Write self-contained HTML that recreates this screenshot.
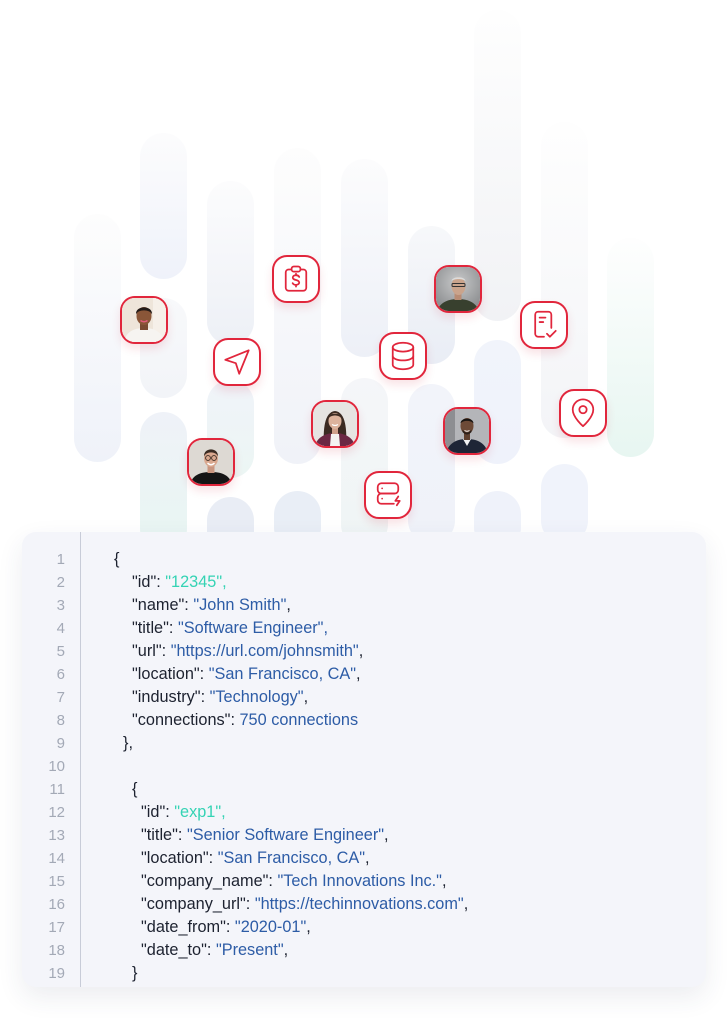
<!DOCTYPE html>
<html><head><meta charset="utf-8">
<style>
html,body{margin:0;padding:0;background:#fff;}
body{width:727px;height:1018px;position:relative;overflow:hidden;font-family:"Liberation Sans",Arial,sans-serif;}
.p{position:absolute;width:47px;border-radius:24px;}
.card{position:absolute;width:44px;height:44px;border:2px solid #e1263c;border-radius:15px;background:#fff;box-shadow:0 5px 9px rgba(210,40,60,0.13);overflow:hidden;}
.card svg{position:absolute;left:0;top:0;}
.ic{fill:none;stroke:#e1263c;stroke-width:1.2;stroke-linecap:round;stroke-linejoin:round;}
.panel{position:absolute;left:22px;top:532px;width:684px;height:455px;background:#f4f5fa;border-radius:14px;box-shadow:0 10px 26px rgba(40,50,90,0.09);}
.gut{position:absolute;left:80px;top:532px;width:1px;height:455px;background:#c8ccd8;}
.ln{position:absolute;left:30px;width:35px;text-align:right;font-size:15px;color:#a3a9b6;line-height:23px;}
.cl{position:absolute;font-size:16.3px;color:#1d2230;line-height:23px;white-space:pre;}
.b{color:#2d5ca6;}
.t{color:#34d3b4;}
</style></head><body>

<!-- background pills -->
<div class="p" style="left:74px;top:214px;height:248px;background:linear-gradient(#fdfdfd,#eff2f9);"></div>
<div class="p" style="left:140px;top:133px;height:146px;background:linear-gradient(#fcfcfd,#eff2fa);"></div>
<div class="p" style="left:140px;top:298px;height:100px;background:linear-gradient(#f8f9fb,#f2f4f8);"></div>
<div class="p" style="left:140px;top:412px;height:140px;background:linear-gradient(#eff2f8,#e8f6f2);"></div>
<div class="p" style="left:207px;top:181px;height:164px;background:linear-gradient(#fcfcfd,#edf0f6);"></div>
<div class="p" style="left:207px;top:380px;height:98px;background:linear-gradient(#f0f3f9,#ecf6f4);"></div>
<div class="p" style="left:207px;top:497px;height:60px;background:#e9edf5;"></div>
<div class="p" style="left:274px;top:148px;height:316px;background:linear-gradient(#fdfdfd,#f0f2f8);"></div>
<div class="p" style="left:274px;top:491px;height:60px;background:#e9eef6;"></div>
<div class="p" style="left:341px;top:159px;height:198px;background:linear-gradient(#fcfcfd,#edf0f7);"></div>
<div class="p" style="left:341px;top:378px;height:170px;background:linear-gradient(#f5f6f9,#eff5f5);"></div>
<div class="p" style="left:408px;top:226px;height:138px;background:linear-gradient(#f7f8fa,#e9edf5);"></div>
<div class="p" style="left:408px;top:384px;height:160px;background:linear-gradient(#f2f4fa,#eff2f9);"></div>
<div class="p" style="left:474px;top:10px;height:311px;background:linear-gradient(#fefefe,#f1f2f5);"></div>
<div class="p" style="left:474px;top:340px;height:124px;background:linear-gradient(#f1f4fb,#eff2fb);"></div>
<div class="p" style="left:474px;top:491px;height:60px;background:#eff2fa;"></div>
<div class="p" style="left:541px;top:122px;height:316px;background:linear-gradient(#fefefe,#f3f4f7);"></div>
<div class="p" style="left:541px;top:464px;height:80px;background:#f0f3fb;"></div>
<div class="p" style="left:607px;top:238px;height:219px;background:linear-gradient(#fefefe,#e7f6f1);"></div>

<!-- avatar: woman 1 -->
<div class="card" style="left:120px;top:296px;">
<svg width="44" height="44" viewBox="0 0 44 44"><rect width="44" height="44" fill="#eee5da"/><rect x="31" width="13" height="44" fill="#f6f0e9"/><path d="M2 44 C4 33 13 30 22 30 C31 30 40 33 42 44Z" fill="#f6f4f1"/><rect x="18" y="23" width="8" height="9" fill="#7a4a32"/><ellipse cx="22" cy="18" rx="7.5" ry="9" fill="#8a5638"/><path d="M14 16.5 C13 7 31 7 30 16.5 C28.5 11 15.5 11 14 16.5Z" fill="#231a17"/><path d="M18.5 22.5 Q22 25 25.5 22.5" stroke="#e05a7a" stroke-width="1.5" fill="none"/></svg>
</div>
<!-- clipboard $ -->
<div class="card" style="left:272px;top:255px;">
<svg width="44" height="44" viewBox="-3 -3 30 30"><g class="ic"><rect x="5" y="5.5" width="14" height="14.5" rx="2"/><rect x="9" y="3.5" width="6" height="3.5" rx="1.5" fill="#fff"/><path d="M14.2 10.6c-.4-.8-1.2-1.2-2.2-1.2-1.3 0-2.2.7-2.2 1.6 0 2.2 4.4 1.2 4.4 3.4 0 .9-1 1.6-2.2 1.6-1 0-1.9-.4-2.3-1.2M12 8.4v1M12 16v1.2"/></g></svg>
</div>
<!-- bald man -->
<div class="card" style="left:434px;top:265px;">
<svg width="44" height="44" viewBox="0 0 44 44"><defs><radialGradient id="g1" cx="50%" cy="35%" r="65%"><stop offset="0" stop-color="#c8c9ca"/><stop offset="1" stop-color="#8e9092"/></radialGradient></defs><rect width="44" height="44" fill="url(#g1)"/><path d="M1 44 C4 35 13 32 22 32 C31 32 40 35 43 44Z" fill="#38402e"/><rect x="18.5" y="25" width="7" height="8" fill="#b88c74"/><ellipse cx="22.5" cy="19" rx="7" ry="9" fill="#caa48c"/><path d="M15.5 14 C16 9 29 9 29.5 14 C27 11.5 18 11.5 15.5 14Z" fill="#dcdcdc"/><rect x="16" y="16.5" width="13" height="3" rx="1" fill="none" stroke="#333" stroke-width="1"/></svg>
</div>
<!-- doc check -->
<div class="card" style="left:520px;top:301px;">
<svg width="44" height="44" viewBox="-3 -3 30 30"><g class="ic"><path d="M12 20H8a2 2 0 0 1-2-2V5a2 2 0 0 1 2-2h7a2 2 0 0 1 2 2v9"/><path d="M9 7h4M9 10h2.5"/><path d="M14 18l2 2 4-4"/></g></svg>
</div>
<!-- send -->
<div class="card" style="left:213px;top:338px;">
<svg width="44" height="44" viewBox="-3 -3 30 30"><g class="ic"><path d="M20 4L4 10.5l7.2 2.3L13.5 20z"/></g></svg>
</div>
<!-- database -->
<div class="card" style="left:379px;top:332px;">
<svg width="44" height="44" viewBox="-3 -3 30 30"><g class="ic"><ellipse cx="12" cy="6" rx="7" ry="3"/><path d="M5 6v12c0 1.7 3.1 3 7 3s7-1.3 7-3V6"/><path d="M5 12c0 1.7 3.1 3 7 3s7-1.3 7-3"/></g></svg>
</div>
<!-- location -->
<div class="card" style="left:559px;top:389px;">
<svg width="44" height="44" viewBox="-3 -3 30 30"><g class="ic"><path d="M12 21s-7-6-7-11.3a7 7 0 0 1 14 0C19 15 12 21 12 21z"/><circle cx="12" cy="9.7" r="2.5"/></g></svg>
</div>
<!-- woman 2 -->
<div class="card" style="left:311px;top:400px;">
<svg width="44" height="44" viewBox="0 0 44 44"><rect width="44" height="44" fill="#e6e4e2"/><path d="M11 44 C10 29 11 10 22 9 C33 10 34 29 33 44Z" fill="#3b2a22"/><path d="M2 44 C4 35 13 31 22 31 C31 31 40 35 42 44Z" fill="#6b2743"/><path d="M17 44 L18 32 L26 32 L27 44Z" fill="#f4f2f0"/><rect x="19" y="24" width="6" height="8" fill="#cfa08a"/><ellipse cx="22" cy="19" rx="6.5" ry="8" fill="#dcb29c"/><path d="M15.5 16.5 C15.5 10 28.5 10 28.5 16.5 C26 12.5 18 12.5 15.5 16.5Z" fill="#3b2a22"/><path d="M19 22.5 Q22 24.5 25 22.5" stroke="#fff" stroke-width="1.2" fill="none"/></svg>
</div>
<!-- man dark -->
<div class="card" style="left:443px;top:407px;">
<svg width="44" height="44" viewBox="0 0 44 44"><rect width="44" height="44" fill="#b4b5b9"/><rect width="10" height="44" fill="#8d8e92"/><path d="M1 44 C4 33 13 30 22 30 C31 30 40 33 43 44Z" fill="#1e2536"/><path d="M18 30 L22 37 L26 30Z" fill="#f3f3f3"/><rect x="19" y="23" width="6" height="8" fill="#5e4030"/><ellipse cx="22" cy="17" rx="6.5" ry="8" fill="#6d4a37"/><path d="M15.5 14.5 C15.5 8 28.5 8 28.5 14.5 C26 11 18 11 15.5 14.5Z" fill="#1a1512"/><path d="M17.5 20.5 Q22 26.5 26.5 20.5 L26.5 23 Q22 28 17.5 23Z" fill="#2a1f1a"/><path d="M19.5 21.5 Q22 23 24.5 21.5" stroke="#fff" stroke-width="1" fill="none"/></svg>
</div>
<!-- man glasses -->
<div class="card" style="left:187px;top:438px;">
<svg width="44" height="44" viewBox="0 0 44 44"><rect width="44" height="44" fill="#ddd9d3"/><path d="M1 44 C4 34 13 32 22 32 C31 32 40 34 43 44Z" fill="#151515"/><rect x="18.5" y="25" width="7" height="8" fill="#c99680"/><ellipse cx="22" cy="18.5" rx="7" ry="8.5" fill="#d9a88f"/><path d="M15 16.5 C14.5 7 29.5 7 29 16.5 C27 11 17 11 15 16.5Z" fill="#3a2b22"/><circle cx="19" cy="18" r="2.4" fill="none" stroke="#3a2b22" stroke-width="0.9"/><circle cx="25" cy="18" r="2.4" fill="none" stroke="#3a2b22" stroke-width="0.9"/><path d="M18.5 23 Q22 26.5 25.5 23" stroke="#fff" stroke-width="1.4" fill="none"/></svg>
</div>
<!-- server -->
<div class="card" style="left:364px;top:471px;">
<svg width="44" height="44" viewBox="-3 -3 30 30"><g class="ic"><path d="M19 8.5V6.5a2.5 2.5 0 0 0-2.5-2.5h-9A2.5 2.5 0 0 0 5 6.5v2A2.5 2.5 0 0 0 7.5 11h9A2.5 2.5 0 0 0 19 8.5z"/><path d="M16 18H7.5A2.5 2.5 0 0 1 5 15.5v-2A2.5 2.5 0 0 1 7.5 11h9"/><path d="M8 7.5h.01M8 14.5h.01"/><path d="M19 13l-2 3h3l-2 3"/></g></svg>
</div>

<!-- code panel -->
<div class="panel"></div>
<div class="gut"></div>

<div class="ln" style="top:548px">1</div>
<div class="ln" style="top:571px">2</div>
<div class="ln" style="top:594px">3</div>
<div class="ln" style="top:617px">4</div>
<div class="ln" style="top:640px">5</div>
<div class="ln" style="top:663px">6</div>
<div class="ln" style="top:686px">7</div>
<div class="ln" style="top:709px">8</div>
<div class="ln" style="top:732px">9</div>
<div class="ln" style="top:755px">10</div>
<div class="ln" style="top:778px">11</div>
<div class="ln" style="top:801px">12</div>
<div class="ln" style="top:824px">13</div>
<div class="ln" style="top:847px">14</div>
<div class="ln" style="top:870px">15</div>
<div class="ln" style="top:893px">16</div>
<div class="ln" style="top:916px">17</div>
<div class="ln" style="top:939px">18</div>
<div class="ln" style="top:962px">19</div>

<div class="cl" style="left:114px;top:548px">{</div>
<div class="cl" style="left:132px;top:571px">"id": <span class="t">"12345",</span></div>
<div class="cl" style="left:132px;top:594px">"name": <span class="b">"John Smith"</span>,</div>
<div class="cl" style="left:132px;top:617px">"title": <span class="b">"Software Engineer",</span></div>
<div class="cl" style="left:132px;top:640px">"url": <span class="b">"https://url.com/johnsmith"</span>,</div>
<div class="cl" style="left:132px;top:663px">"location": <span class="b">"San Francisco, CA"</span>,</div>
<div class="cl" style="left:132px;top:686px">"industry": <span class="b">"Technology"</span>,</div>
<div class="cl" style="left:132px;top:709px">"connections": <span class="b">750 connections</span></div>
<div class="cl" style="left:123px;top:732px">},</div>
<div class="cl" style="left:132px;top:778px">{</div>
<div class="cl" style="left:141px;top:801px">"id": <span class="t">"exp1",</span></div>
<div class="cl" style="left:141px;top:824px">"title": <span class="b">"Senior Software Engineer"</span>,</div>
<div class="cl" style="left:141px;top:847px">"location": <span class="b">"San Francisco, CA"</span>,</div>
<div class="cl" style="left:141px;top:870px">"company_name": <span class="b">"Tech Innovations Inc."</span>,</div>
<div class="cl" style="left:141px;top:893px">"company_url": <span class="b">"https://techinnovations.com"</span>,</div>
<div class="cl" style="left:141px;top:916px">"date_from": <span class="b">"2020-01"</span>,</div>
<div class="cl" style="left:141px;top:939px">"date_to": <span class="b">"Present"</span>,</div>
<div class="cl" style="left:132px;top:962px">}</div>

</body></html>
